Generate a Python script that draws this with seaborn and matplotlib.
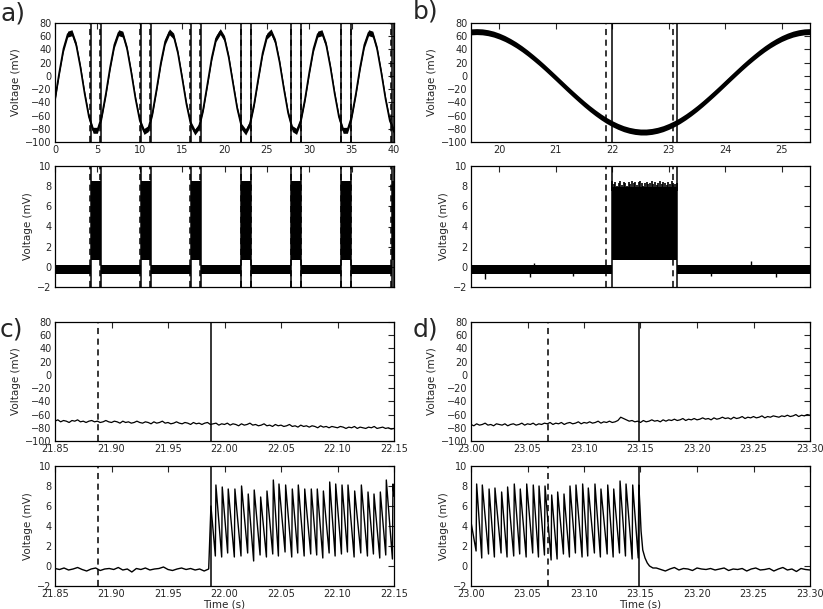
import numpy as np
import seaborn as sns
import matplotlib.pyplot as plt
from matplotlib.ticker import FormatStrFormatter

# ---------------- data ----------------
# a) whole recording, membrane trace sampled every 0.5 s (mV)
a_t = np.arange(0, 40.01, 0.5)
a_v = [-34.8, 5.1, 41.1, 63.2, 65.3, 46.8, 12.9, -27.1, -62.0, -82.3,
       -82.3, -62.0, -27.0, 13.0, 46.9, 65.3, 63.1, 41.0, 5.0, -34.8,
       -67.5, -84.0, -79.8, -55.9, -19.0, 20.6, 52.0, 66.6, 60.2, 34.6,
       -3.0, -42.3, -72.4, -84.9, -76.4, -49.2, -11.0, 27.9, 56.5, 67.0,
       56.4, 27.8, -11.1, -49.4, -76.5, -84.9, -72.3, -42.2, -2.8, 34.8,
       60.3, 66.6, 51.9, 20.5, -19.2, -56.0, -79.8, -84.0, -67.4, -34.7,
       5.2, 41.1, 63.2, 65.3, 46.8, 12.8, -27.2, -62.1, -82.4, -82.3,
       -61.9, -26.9, 13.1, 46.9, 65.3, 63.1, 40.9, 4.9, -34.9, -67.6, -84.1]
noise_top = 4.5  # half width of the noise band on the voltage trace

# burst on/off (solid) and detection (dashed) times, s
burst_on = [4.25, 10.14, 16.04, 21.988, 27.9, 33.8, 39.72]
burst_off = [5.41, 11.3, 17.2, 23.149, 29.05, 34.95, 40.0]
det_on = [4.15, 10.04, 15.94, 21.888, 27.8, 33.7, 39.62]
det_off = [5.33, 11.22, 17.12, 23.068, 28.97, 34.87]

base_lo, base_hi = -0.75, 0.2
burst_lo, burst_hi = 0.7, 8.5

# b) zoom 19.5-25.5 s, trace every 0.1 s
b_t = np.arange(19.5, 25.501, 0.1)
b_v = [66.6, 67.0, 66.6, 65.3, 63.2, 60.2, 56.5, 52.0, 46.9, 41.1,
       34.7, 27.8, 20.6, 13.0, 5.1, -2.9, -11.0, -19.1, -27.0, -34.7,
       -42.2, -49.3, -55.9, -62.0, -67.5, -72.3, -76.4, -79.8, -82.3, -84.0,
       -84.9, -84.9, -84.0, -82.3, -79.8, -76.4, -72.3, -67.5, -62.0, -55.9,
       -49.3, -42.2, -34.7, -27.0, -19.1, -11.0, -2.9, 5.1, 13.0, 20.6,
       27.8, 34.7, 41.1, 46.9, 52.0, 56.5, 60.2, 63.2, 65.3, 66.6, 67.0]
b_burst_top = [8.5, 8.2, 8.4, 8.0, 8.3, 8.5, 8.1, 8.4, 8.3, 8.0,
               8.4, 8.2, 8.5, 8.3, 8.4, 8.1, 8.4, 8.5, 8.3, 8.0,
               8.3, 8.4, 8.2, 8.3, 8.5, 8.2, 8.4, 8.1, 8.3, 8.5,
               8.2, 8.4, 8.3, 8.1, 8.4, 8.2, 8.5, 8.3, 8.2, 8.3]
b_spike_t = [19.75, 20.55, 20.62, 21.3, 23.75, 24.45, 24.9]
b_spike_v = [-1.2, -1.0, 0.4, -0.95, -0.95, 0.6, -1.0]

# c) burst onset, 21.85-22.15 s
c_t = np.linspace(21.85, 22.15, 121)
c_v = [-70, -68, -71, -69, -70, -72, -69, -70, -68, -71,
       -70, -72, -70, -69, -71, -70, -72, -71, -69, -71,
       -72, -70, -71, -73, -70, -72, -71, -73, -72, -70,
       -72, -73, -71, -72, -74, -71, -73, -72, -70, -73,
       -72, -74, -73, -71, -73, -74, -72, -73, -75, -72,
       -74, -73, -75, -73, -72, -75, -74, -73, -76, -74,
       -75, -73, -76, -74, -75, -77, -74, -76, -75, -73,
       -76, -75, -77, -76, -74, -77, -76, -78, -75, -77,
       -76, -78, -77, -75, -78, -77, -79, -76, -78, -77,
       -79, -77, -78, -80, -77, -79, -78, -80, -78, -79,
       -80, -78, -79, -81, -79, -80, -78, -81, -79, -80,
       -81, -79, -80, -78, -81, -80, -79, -81, -80, -82, -81]
c_base_t = np.linspace(21.85, 21.986, 35)
c_base_v = [-0.25, -0.35, -0.2, -0.4, -0.3, -0.15, -0.35, -0.5, -0.3, -0.2,
            -0.45, -0.3, -0.25, -0.35, -0.15, -0.4, -0.3, -0.6, -0.25, -0.35,
            -0.2, -0.4, -0.3, -0.25, -0.1, -0.35, -0.45, -0.3, -0.2, -0.35,
            -0.25, -0.4, -0.3, -0.5, -0.3]
c_first = 6.0
c_peak_t = [21.9924, 21.998, 22.0033, 22.0092, 22.0151, 22.021, 22.0263, 22.032,
            22.0376, 22.0432, 22.0482, 22.0541, 22.06, 22.0653, 22.071, 22.0768,
            22.0821, 22.0875, 22.0931, 22.0984, 22.104, 22.1093, 22.1152, 22.1211,
            22.127, 22.1323, 22.1379, 22.1432, 22.1491]
c_peak_v = [8.1, 7.9, 7.7, 7.7, 8.0, 7.2, 7.6, 6.9, 7.5, 8.6, 8.2, 8.1, 7.7, 8.1, 7.7,
            7.7, 7.7, 7.5, 8.4, 8.2, 8.1, 8.1, 7.5, 8.1, 7.4, 7.2, 7.4, 8.6, 8.2]
c_trough_v = [1.0, 0.9, 1.3, 0.9, 1.0, 1.3, 0.5, 1.1, 0.9, 1.2, 1.0, 1.4, 0.9, 1.3, 1.0,
              1.2, 1.1, 0.8, 1.3, 1.0, 1.2, 1.4, 0.9, 1.3, 1.0, 1.2, 0.8, 1.1, 0.7]
c_end = 7.0

# d) burst offset, 23.00-23.30 s
d_t = np.linspace(23.0, 23.3, 121)
d_v = [-75, -77, -74, -76, -75, -73, -76, -75, -77, -74,
       -75, -76, -74, -77, -75, -74, -76, -75, -73, -76,
       -74, -75, -73, -76, -74, -75, -73, -74, -72, -75,
       -73, -74, -72, -75, -73, -72, -74, -73, -71, -74,
       -72, -73, -71, -73, -72, -70, -73, -71, -72, -70,
       -72, -71, -69, -64, -66, -68, -70, -69, -71, -70,
       -72, -69, -71, -70, -68, -70, -69, -71, -68, -70,
       -68, -69, -67, -69, -68, -66, -69, -67, -68, -66,
       -68, -67, -65, -67, -66, -68, -65, -67, -66, -64,
       -66, -65, -67, -64, -66, -65, -63, -66, -64, -65,
       -63, -65, -64, -62, -65, -63, -64, -62, -63, -64,
       -62, -63, -61, -63, -62, -60, -63, -61, -62, -60, -61]
d_start = 4.4
d_peak_t = [23.005, 23.010, 23.016, 23.0212, 23.0271, 23.0324, 23.0383, 23.0436,
            23.0493, 23.0551, 23.0602, 23.0655, 23.0714, 23.0767, 23.0823, 23.0876,
            23.0929, 23.0988, 23.1038, 23.1097, 23.115, 23.121, 23.1263, 23.1319,
            23.1372, 23.1431, 23.1485]
d_peak_v = [8.2, 8.1, 7.7, 7.8, 7.4, 7.9, 8.2, 7.7, 8.2, 8.1, 8.0, 8.0, 7.1, 7.4,
            7.2, 8.0, 8.1, 8.2, 7.8, 8.2, 7.7, 8.1, 7.7, 8.5, 8.2, 8.1, 8.1]
d_trough_v = [1.5, 0.8, 1.2, 0.9, 1.3, 0.9, 1.0, 1.2, 0.9, 1.3, 0.9, 1.1, 0.6, 0.7,
              1.2, 0.9, 1.3, 0.9, 1.0, 1.3, 0.9, 1.2, 0.9, 1.3, 1.0, 0.7, 0.8]
d_tail_t = [23.1495, 23.1505, 23.152, 23.154, 23.156, 23.158, 23.161]
d_tail_v = [6.0, 3.5, 1.6, 0.8, 0.3, 0.0, -0.2]
d_base_t = np.linspace(23.164, 23.30, 35)
d_base_v = [-0.2, -0.35, -0.5, -0.3, -0.15, -0.4, -0.25, -0.3, -0.45, -0.2,
            -0.3, -0.35, -0.25, -0.4, -0.3, -0.2, -0.45, -0.3, -0.35, -0.25,
            -0.5, -0.3, -0.2, -0.4, -0.35, -0.25, -0.5, -0.3, -0.15, -0.4,
            -0.3, -0.55, -0.25, -0.35, -0.4]

rise = 0.0005  # spike upstroke duration, s

# ---------------- style ----------------
sns.set_style("white")
plt.rcParams.update({
    "font.family": ["DejaVu Sans"],
    "xtick.direction": "in", "ytick.direction": "in",
    "xtick.top": True, "ytick.right": True,
    "xtick.major.size": 4, "ytick.major.size": 4,
    "xtick.major.pad": 2, "ytick.major.pad": 2.5,
    "xtick.labelsize": 7, "ytick.labelsize": 7,
    "axes.labelsize": 7.5, "axes.labelpad": 1.5,
    "axes.edgecolor": "black", "axes.linewidth": 0.9,
})

fig = plt.figure(figsize=(8.23, 6.09), dpi=100)
W, H = 823, 609


def make_ax(l, r, t, b):
    return fig.add_axes([l / W, 1 - b / H, (r - l) / W, (b - t) / H])


def marks(ax, solid, dashed):
    for x in solid:
        ax.axvline(x, color="k", lw=1.1)
    for x in dashed:
        ax.axvline(x, color="k", lw=1.1, ls=(0, (4, 3)))


def vlabel(ax):
    ax.set_ylabel("Voltage (mV)", labelpad=3)


def spike_train(t0, v0, peak_t, peak_v, trough_v):
    ts, vs = [t0], [v0]
    for pt, pv, tv in zip(peak_t, peak_v, trough_v):
        ts += [pt - rise, pt]
        vs += [tv, pv]
    return ts, vs


volt_ticks = [-100, -80, -60, -40, -20, 0, 20, 40, 60, 80]
small_ticks = [-2, 0, 2, 4, 6, 8, 10]

# ---- a) top ----
ax = make_ax(55, 394, 23, 142)
av = np.array(a_v)
ax.fill_between(a_t, av - noise_top, av + noise_top, color="k", lw=0)
sns.lineplot(x=a_t, y=a_v, ax=ax, color="k", lw=1.2, estimator=None)
marks(ax, burst_on + burst_off, det_on + det_off)
ax.set_xlim(0, 40)
ax.set_ylim(-100, 80)
ax.set_xticks([0, 5, 10, 15, 20, 25, 30, 35, 40])
ax.set_yticks(volt_ticks)
vlabel(ax)

# ---- a) bottom ----
ax = make_ax(55, 394, 166, 287)
for k, on in enumerate(burst_on):
    start = 0 if k == 0 else burst_off[k - 1]
    ax.fill_between([start, on], base_lo, base_hi, color="k", lw=0)
    ax.fill_between([on, burst_off[k]], burst_lo, burst_hi, color="k", lw=0)
marks(ax, burst_on + burst_off, det_on + det_off)
ax.set_xlim(0, 40)
ax.set_ylim(-2, 10)
ax.set_xticks([0, 5, 10, 15, 20, 25, 30, 35, 40])
ax.set_xticklabels([])
ax.set_yticks(small_ticks)
vlabel(ax)

# ---- b) top ----
ax = make_ax(471, 810, 23, 142)
bv = np.array(b_v)
ax.fill_between(b_t, bv - noise_top, bv + noise_top, color="k", lw=0)
sns.lineplot(x=b_t, y=b_v, ax=ax, color="k", lw=1.2, estimator=None)
marks(ax, [21.988, 23.149], [21.888, 23.068])
ax.set_xlim(19.5, 25.5)
ax.set_ylim(-100, 80)
ax.set_xticks([20, 21, 22, 23, 24, 25])
ax.set_yticks(volt_ticks)
vlabel(ax)

# ---- b) bottom ----
ax = make_ax(471, 810, 166, 287)
ax.fill_between([19.5, 21.988], base_lo, base_hi, color="k", lw=0)
ax.fill_between([23.149, 25.5], base_lo, base_hi, color="k", lw=0)
ax.fill_between([21.988, 23.149], burst_lo, 7.9, color="k", lw=0)
ax.vlines(np.linspace(21.995, 23.14, len(b_burst_top)), 7.5, b_burst_top, color="k", lw=1.2)
ax.vlines(b_spike_t, 0, b_spike_v, color="k", lw=1.0)
marks(ax, [21.988, 23.149], [21.888, 23.068])
ax.set_xlim(19.5, 25.5)
ax.set_ylim(-2, 10)
ax.set_xticks([20, 21, 22, 23, 24, 25])
ax.set_xticklabels([])
ax.set_yticks(small_ticks)
vlabel(ax)

# ---- c) top ----
ax = make_ax(55, 394, 322, 441)
sns.lineplot(x=c_t, y=c_v, ax=ax, color="k", lw=0.9, estimator=None)
marks(ax, [21.988], [21.888])
ax.set_xlim(21.85, 22.15)
ax.set_ylim(-100, 80)
ax.set_xticks([21.85, 21.90, 21.95, 22.00, 22.05, 22.10, 22.15])
ax.xaxis.set_major_formatter(FormatStrFormatter("%.2f"))
ax.set_yticks(volt_ticks)
vlabel(ax)

# ---- c) bottom ----
ax = make_ax(55, 394, 466, 586)
st, sv = spike_train(21.988, c_first, c_peak_t, c_peak_v, c_trough_v)
ct = list(c_base_t) + st + [22.15]
cv = c_base_v + sv + [c_end]
sns.lineplot(x=ct, y=cv, ax=ax, color="k", lw=1.0, estimator=None, sort=False)
marks(ax, [21.988], [21.888])
ax.set_xlim(21.85, 22.15)
ax.set_ylim(-2, 10)
ax.set_xticks([21.85, 21.90, 21.95, 22.00, 22.05, 22.10, 22.15])
ax.xaxis.set_major_formatter(FormatStrFormatter("%.2f"))
ax.set_yticks(small_ticks)
ax.set_xlabel("Time (s)", labelpad=0.5)
vlabel(ax)

# ---- d) top ----
ax = make_ax(471, 810, 322, 441)
sns.lineplot(x=d_t, y=d_v, ax=ax, color="k", lw=0.9, estimator=None)
marks(ax, [23.149], [23.068])
ax.set_xlim(23.0, 23.3)
ax.set_ylim(-100, 80)
ax.set_xticks([23.00, 23.05, 23.10, 23.15, 23.20, 23.25, 23.30])
ax.xaxis.set_major_formatter(FormatStrFormatter("%.2f"))
ax.set_yticks(volt_ticks)
vlabel(ax)

# ---- d) bottom ----
ax = make_ax(471, 810, 466, 586)
st, sv = spike_train(23.0, d_start, d_peak_t, d_peak_v, d_trough_v)
dt = st + d_tail_t + list(d_base_t)
dv = sv + d_tail_v + d_base_v
sns.lineplot(x=dt, y=dv, ax=ax, color="k", lw=1.0, estimator=None, sort=False)
marks(ax, [23.149], [23.068])
ax.set_xlim(23.0, 23.3)
ax.set_ylim(-2, 10)
ax.set_xticks([23.00, 23.05, 23.10, 23.15, 23.20, 23.25, 23.30])
ax.xaxis.set_major_formatter(FormatStrFormatter("%.2f"))
ax.set_yticks(small_ticks)
ax.set_xlabel("Time (s)", labelpad=0.5)
vlabel(ax)

# panel letters
for x, y, s in [(0, 2, "a)"), (413, 0, "b)"), (0, 318, "c)"), (413, 318, "d)")]:
    fig.text(x / W, 1 - y / H, s, fontsize=18, va="top", ha="left")

fig.savefig("out.png", dpi=100, facecolor="white")
